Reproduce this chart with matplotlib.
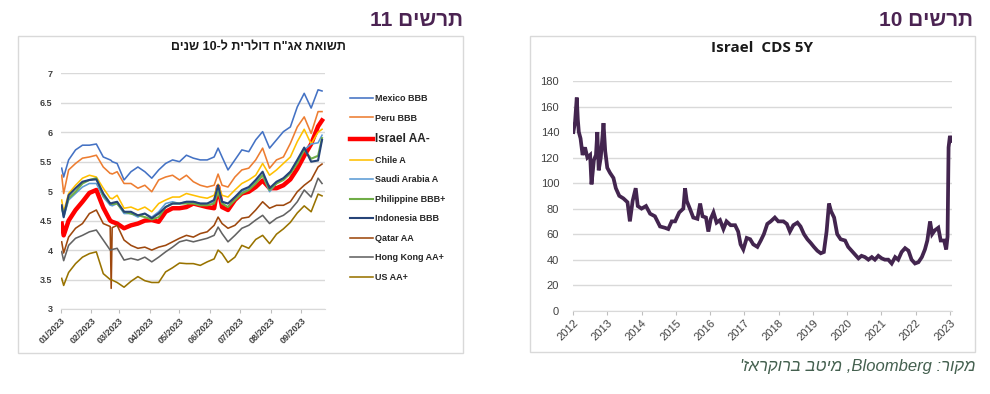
import re
import numpy as np
import pandas as pd
import matplotlib
matplotlib.use("Agg")
import matplotlib.pyplot as plt
import matplotlib.dates as mdates
from matplotlib.ticker import FuncFormatter
from matplotlib.patches import Rectangle

plt.rcParams['font.family'] = ['Liberation Sans', 'DejaVu Sans']

# ---- chart 11 : 10Y USD sovereign yields (2023) ----
dates = pd.to_datetime([
    '2023-01-02', '2023-01-04', '2023-01-09', '2023-01-16', '2023-01-23', '2023-01-30',
    '2023-02-06', '2023-02-13', '2023-02-20', '2023-02-21', '2023-02-22', '2023-02-27',
    '2023-03-06', '2023-03-13', '2023-03-20', '2023-03-27', '2023-04-03', '2023-04-10',
    '2023-04-17', '2023-04-24', '2023-05-01', '2023-05-08', '2023-05-15', '2023-05-22',
    '2023-05-29', '2023-06-05', '2023-06-09', '2023-06-13', '2023-06-19', '2023-06-26',
    '2023-07-03', '2023-07-10', '2023-07-17', '2023-07-24', '2023-07-31', '2023-08-07',
    '2023-08-14', '2023-08-21', '2023-08-28', '2023-09-04', '2023-09-11', '2023-09-18',
    '2023-09-22'])

mexico = [5.39, 5.24, 5.53, 5.70, 5.78, 5.78, 5.80, 5.58, 5.53, 5.52, 5.50, 5.47, 5.19, 5.33, 5.41,
          5.33, 5.22, 5.36, 5.47, 5.53, 5.50, 5.61, 5.56, 5.53, 5.53, 5.58, 5.73, 5.58, 5.36, 5.53,
          5.70, 5.67, 5.87, 6.01, 5.73, 5.87, 6.01, 6.09, 6.43, 6.66, 6.41, 6.72, 6.70]
peru = [5.27, 4.96, 5.36, 5.47, 5.56, 5.58, 5.61, 5.41, 5.30, 5.30, 5.29, 5.33, 5.13, 5.13, 5.05,
        5.10, 4.99, 5.19, 5.24, 5.27, 5.19, 5.27, 5.16, 5.10, 5.07, 5.10, 5.29, 5.10, 5.07, 5.24,
        5.36, 5.39, 5.53, 5.73, 5.39, 5.53, 5.58, 5.81, 6.09, 6.26, 5.98, 6.35, 6.35]
israel = [4.45, 4.25, 4.50, 4.68, 4.82, 4.97, 5.02, 4.72, 4.50, 4.49, 4.48, 4.45, 4.37, 4.42, 4.45,
          4.50, 4.51, 4.48, 4.65, 4.71, 4.71, 4.73, 4.79, 4.76, 4.73, 4.71, 5.08, 4.73, 4.68, 4.85,
          4.96, 4.99, 5.07, 5.18, 5.05, 5.05, 5.10, 5.20, 5.38, 5.60, 5.80, 6.10, 6.20]
chile = [4.85, 4.65, 4.96, 5.10, 5.22, 5.27, 5.24, 5.05, 4.88, 4.88, 4.87, 4.93, 4.71, 4.73, 4.68,
         4.73, 4.65, 4.79, 4.85, 4.90, 4.90, 4.96, 4.93, 4.90, 4.88, 4.93, 5.12, 4.93, 4.90, 5.02,
         5.13, 5.19, 5.27, 5.47, 5.27, 5.36, 5.47, 5.58, 5.84, 6.05, 5.80, 6.00, 6.05]
saudi = [4.73, 4.55, 4.85, 4.96, 5.07, 5.13, 5.13, 4.90, 4.76, 4.76, 4.75, 4.79, 4.62, 4.62, 4.56,
         4.62, 4.56, 4.65, 4.79, 4.82, 4.79, 4.82, 4.82, 4.79, 4.79, 4.82, 5.05, 4.82, 4.79, 4.90,
         4.99, 5.05, 5.16, 5.27, 4.99, 5.13, 5.22, 5.33, 5.50, 5.70, 5.80, 5.82, 5.95]
philippine = [4.73, 4.60, 4.88, 4.99, 5.13, 5.19, 5.22, 4.93, 4.79, 4.79, 4.78, 4.79, 4.65, 4.62, 4.59,
              4.56, 4.52, 4.56, 4.73, 4.79, 4.79, 4.79, 4.79, 4.76, 4.76, 4.79, 4.99, 4.79, 4.73, 4.85,
              4.96, 5.02, 5.13, 5.27, 5.02, 5.13, 5.19, 5.30, 5.47, 5.70, 5.55, 5.60, 5.90]
indonesia = [4.76, 4.56, 4.93, 5.05, 5.16, 5.19, 5.20, 4.96, 4.79, 4.79, 4.80, 4.82, 4.65, 4.65, 4.59,
             4.62, 4.54, 4.62, 4.73, 4.79, 4.79, 4.82, 4.82, 4.79, 4.79, 4.85, 5.10, 4.82, 4.79, 4.90,
             5.02, 5.07, 5.19, 5.33, 5.05, 5.16, 5.22, 5.33, 5.53, 5.74, 5.50, 5.52, 5.87]
qatar = [4.14, 3.95, 4.22, 4.37, 4.45, 4.62, 4.68, 4.45, 4.40, 3.35, 4.38, 4.42, 4.17, 4.08, 4.03,
         4.05, 4.00, 4.05, 4.08, 4.14, 4.20, 4.25, 4.22, 4.28, 4.31, 4.42, 4.56, 4.45, 4.37, 4.42,
         4.54, 4.56, 4.68, 4.82, 4.71, 4.76, 4.76, 4.82, 4.99, 5.10, 5.19, 5.41, 5.46]
hong_kong = [3.97, 3.82, 4.08, 4.20, 4.25, 4.31, 4.34, 4.17, 4.00, 4.00, 4.01, 4.03, 3.83, 3.86, 3.83,
             3.88, 3.80, 3.88, 3.97, 4.05, 4.14, 4.17, 4.14, 4.17, 4.20, 4.25, 4.39, 4.28, 4.14, 4.25,
             4.37, 4.42, 4.51, 4.59, 4.45, 4.54, 4.59, 4.68, 4.82, 5.02, 4.90, 5.22, 5.13]
us = [3.52, 3.40, 3.62, 3.77, 3.88, 3.94, 3.97, 3.60, 3.50, 3.50, 3.49, 3.45, 3.37, 3.47, 3.55,
      3.48, 3.45, 3.45, 3.63, 3.70, 3.78, 3.77, 3.77, 3.74, 3.80, 3.85, 4.00, 3.94, 3.79, 3.88,
      4.08, 4.03, 4.18, 4.25, 4.11, 4.27, 4.36, 4.47, 4.63, 4.75, 4.65, 4.95, 4.92]

series = [
    ('Mexico BBB', mexico, '#4472C4', 1.15),
    ('Peru BBB', peru, '#ED7D31', 1.15),
    ('Israel AA-', israel, '#FF0000', 3.2),
    ('Chile A', chile, '#FFC000', 1.15),
    ('Saudi Arabia A', saudi, '#5B9BD5', 1.15),
    ('Philippine BBB+', philippine, '#70AD47', 1.5),
    ('Indonesia BBB', indonesia, '#264478', 1.5),
    ('Qatar AA', qatar, '#9E480E', 1.15),
    ('Hong Kong AA+', hong_kong, '#636363', 1.15),
    ('US AA+', us, '#997300', 1.15),
]

# ---- chart 10 : Israel CDS 5Y ----
cds_year = [2012.01, 2012.06, 2012.11, 2012.14, 2012.17, 2012.22, 2012.28, 2012.35, 2012.42, 2012.50,
            2012.54, 2012.61, 2012.67, 2012.71, 2012.75, 2012.81, 2012.87, 2012.89, 2012.94, 2013.00,
            2013.08, 2013.18, 2013.25, 2013.35, 2013.47, 2013.59, 2013.66, 2013.74, 2013.83, 2013.89,
            2014.00, 2014.13, 2014.25, 2014.39, 2014.54, 2014.68, 2014.78, 2014.88, 2014.98, 2015.10,
            2015.22, 2015.27, 2015.32, 2015.41, 2015.51, 2015.63, 2015.71, 2015.78, 2015.88, 2015.95,
            2016.02, 2016.10, 2016.19, 2016.29, 2016.39, 2016.48, 2016.60, 2016.73, 2016.82, 2016.89,
            2016.97, 2017.07, 2017.17, 2017.26, 2017.38, 2017.48, 2017.57, 2017.67, 2017.77, 2017.89,
            2017.99, 2018.14, 2018.24, 2018.33, 2018.43, 2018.55, 2018.64, 2018.74, 2018.84, 2018.94,
            2019.03, 2019.13, 2019.23, 2019.32, 2019.40, 2019.47, 2019.53, 2019.62, 2019.71, 2019.81,
            2019.94, 2020.03, 2020.13, 2020.23, 2020.33, 2020.42, 2020.52, 2020.62, 2020.72, 2020.81,
            2020.91, 2021.01, 2021.10, 2021.20, 2021.30, 2021.40, 2021.49, 2021.59, 2021.69, 2021.79,
            2021.88, 2021.98, 2022.08, 2022.18, 2022.27, 2022.34, 2022.42, 2022.48, 2022.56, 2022.66,
            2022.73, 2022.83, 2022.89, 2022.93, 2022.96, 2023.00, 2023.04]
cds_bp = [140, 148, 167, 150, 140, 135, 122, 128, 120, 122,
          99, 118, 122, 140, 110, 120, 140, 147, 125, 112,
          108, 104, 96, 90, 88, 85, 70, 86, 96, 82,
          80, 82, 76, 74, 66, 65, 64, 70, 70, 77,
          80, 96, 86, 80, 73, 72, 84, 74, 73, 62,
          72, 77, 69, 71, 64, 70, 67, 67, 62, 52,
          48, 57, 56, 52, 50, 55, 60, 68, 70, 73,
          70, 70, 68, 62, 67, 69, 66, 60, 56, 53,
          50, 47, 45, 46, 62, 84, 78, 73, 60, 56,
          55, 50, 47, 44, 41, 43, 42, 40, 42, 40,
          43, 41, 40, 40, 37, 42, 40, 46, 49, 47,
          40, 37, 38, 42, 48, 55, 70, 60, 63, 65,
          55, 55, 48, 58, 128, 137, 133]
cds_years_ticks = list(range(2012, 2024))


def rtl(s):
    # matplotlib has no bidi: reverse, then put latin/digit runs back in order
    r = s[::-1]
    return re.sub(r'[0-9A-Za-z.]+', lambda m: m.group(0)[::-1], r)


fig = plt.figure(figsize=(9.9, 3.94), dpi=100)
W, H = 990.0, 394.0

# panel frames
for x0, y0, x1, y1 in [(18, 36, 463, 353), (530, 36, 975, 352)]:
    fig.patches.append(Rectangle((x0 / W, 1 - y1 / H), (x1 - x0) / W, (y1 - y0) / H,
                                 transform=fig.transFigure, fill=False,
                                 edgecolor='#D9D9D9', lw=1.0))

title_col = '#4B2352'
fig.text(463 / W, 1 - 21 / H, rtl('תרשים 11'), ha='right', va='center',
         fontsize=15, fontweight='bold', color=title_col)
fig.text(973 / W, 1 - 21 / H, rtl('תרשים 10'), ha='right', va='center',
         fontsize=15, fontweight='bold', color=title_col)
fig.text(975 / W, 1 - 367 / H, rtl("מקור: Bloomberg, מיטב ברוקראז'"), ha='right', va='center',
         fontsize=12, style='italic', color='#44604F')

# ---- left chart ----
ax1 = fig.add_axes([60.7 / W, 1 - 309 / H, (325 - 60.7) / W, (309 - 73.3) / H])
for name, vals, color, lw in series:
    ax1.plot(dates, vals, color=color, lw=lw, label=name, solid_joinstyle='round')
ax1.set_ylim(3, 7)
ax1.set_yticks(np.arange(3, 7.01, 0.5))
ax1.yaxis.set_major_formatter(FuncFormatter(lambda v, p: f'{v:g}'))
ax1.set_xlim(pd.Timestamp('2023-01-01'), pd.Timestamp('2023-09-25'))
ax1.xaxis.set_major_locator(mdates.MonthLocator())
ax1.xaxis.set_major_formatter(mdates.DateFormatter('%m/%Y'))
ax1.grid(axis='y', color='#D9D9D9', lw=1.0)
ax1.set_axisbelow(True)
for s in ['top', 'right', 'left']:
    ax1.spines[s].set_visible(False)
ax1.spines['bottom'].set_color('#D9D9D9')
ax1.tick_params(axis='y', length=0, pad=6, labelsize=6.5, labelcolor='#404040')
ax1.tick_params(axis='x', length=3, color='#BFBFBF', pad=2, labelsize=6.5, labelcolor='#404040')
for lab in ax1.get_yticklabels() + ax1.get_xticklabels():
    lab.set_fontweight('bold')
plt.setp(ax1.get_xticklabels(), rotation=45, ha='right', rotation_mode='anchor')
fig.text(258 / W, 1 - 47 / H, rtl('תשואת אג"ח דולרית ל-10 שנים'), ha='center', va='center',
         fontsize=9, fontweight='bold', color='#1A1A1A')

leg = ax1.legend(loc='upper left', bbox_to_anchor=(350 / W, 1 - 94 / H),
                 bbox_transform=fig.transFigure, frameon=False, borderaxespad=0,
                 borderpad=0, handlelength=2.5, handletextpad=0.3, labelspacing=1.17,
                 prop={'size': 6.5, 'weight': 'bold'})
for t in leg.get_texts():
    t.set_color('#262626')
    if t.get_text().startswith('Israel'):
        t.set_fontsize(8.5)

# ---- right chart ----
ax2 = fig.add_axes([573 / W, 1 - 310.7 / H, (952 - 573) / W, (310.7 - 81) / H])
ax2.plot(cds_year, cds_bp, color='#43254F', lw=2.7, solid_joinstyle='miter')
ax2.set_ylim(0, 180)
ax2.set_yticks(range(0, 181, 20))
ax2.set_xlim(2012, 2023.06)
ax2.set_xticks(cds_years_ticks)
ax2.set_xticklabels([str(y) for y in cds_years_ticks])
ax2.grid(axis='y', color='#D9D9D9', lw=1.0)
ax2.set_axisbelow(True)
for s in ['top', 'right', 'left']:
    ax2.spines[s].set_visible(False)
ax2.spines['bottom'].set_color('#D9D9D9')
ax2.tick_params(axis='y', length=0, pad=10, labelsize=8, labelcolor='#404040')
ax2.tick_params(axis='x', length=3, color='#BFBFBF', pad=2, labelsize=8, labelcolor='#404040')
plt.setp(ax2.get_xticklabels(), rotation=45, ha='right', rotation_mode='anchor')
fig.text(762 / W, 1 - 48 / H, 'Israel  CDS 5Y', ha='center', va='center',
         fontsize=11, fontweight='bold', color='#1A1A1A', family=['Open Sans', 'DejaVu Sans'])

fig.savefig('out.png', dpi=100)
